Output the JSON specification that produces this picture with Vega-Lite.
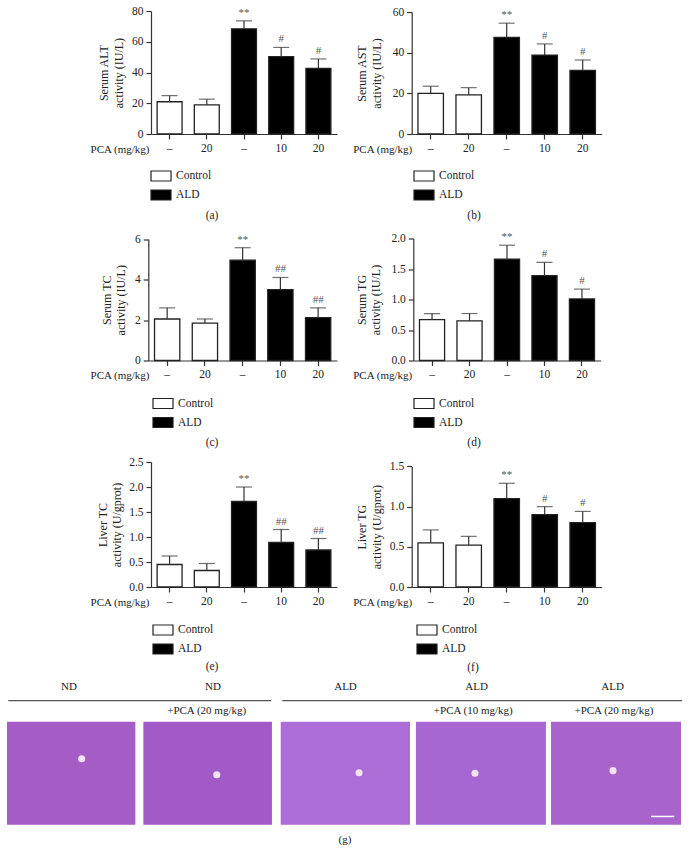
{"$schema":"https://vega.github.io/schema/vega-lite/v6.json","padding":{"left":7,"top":5,"right":8,"bottom":5},"background":"white","columns":2,"align":"none","bounds":"flush","spacing":{"row":100.5,"column":73},"resolve":{"scale":{"color":"independent"},"legend":{"color":"independent"}},
"config":{"font":"Liberation Serif","view":{"stroke":null},"axis":{"labelFont":"Liberation Serif","titleFont":"Liberation Serif","labelFontSize":11.5,"titleFontSize":12,"titleFontWeight":"normal","labelColor":"#222","titleColor":"#222","domainColor":"#333","tickColor":"#333","domainWidth":1.2,"tickWidth":1.2,"tickSize":5,"grid":false,"titleLineHeight":14.5,"labelPadding":3},"legend":{"labelFont":"Liberation Serif","labelFontSize":11.5,"labelColor":"#222","title":null,"orient":"none","symbolType":"M-1,-0.5H1V0.5H-1Z","symbolSize":400,"symbolStrokeColor":"#222","symbolStrokeWidth":1.2,"rowPadding":-3,"labelOffset":4,"padding":0},"title":{"font":"Liberation Serif","fontSize":11.5,"fontWeight":"normal","color":"#222"}},
"datasets":{
"a":[{"dose":"–","group":"Control","mean":21,"hi":25,"sig":""},{"dose":"20","group":"Control","mean":19,"hi":22.7,"sig":""},{"dose":"– ","group":"ALD","mean":68.5,"hi":73.7,"sig":"**"},{"dose":"10","group":"ALD","mean":50.4,"hi":56.4,"sig":"#"},{"dose":"20 ","group":"ALD","mean":42.8,"hi":48.9,"sig":"#"}],
"b":[{"dose":"–","group":"Control","mean":20,"hi":23.5,"sig":""},{"dose":"20","group":"Control","mean":19.2,"hi":22.8,"sig":""},{"dose":"– ","group":"ALD","mean":47.5,"hi":54.5,"sig":"**"},{"dose":"10","group":"ALD","mean":38.8,"hi":44.3,"sig":"#"},{"dose":"20 ","group":"ALD","mean":31.3,"hi":36.4,"sig":"#"}],
"c":[{"dose":"–","group":"Control","mean":2.05,"hi":2.6,"sig":""},{"dose":"20","group":"Control","mean":1.85,"hi":2.05,"sig":""},{"dose":"– ","group":"ALD","mean":4.95,"hi":5.57,"sig":"**"},{"dose":"10","group":"ALD","mean":3.5,"hi":4.1,"sig":"##"},{"dose":"20 ","group":"ALD","mean":2.12,"hi":2.6,"sig":"##"}],
"d":[{"dose":"–","group":"Control","mean":0.67,"hi":0.77,"sig":""},{"dose":"20","group":"Control","mean":0.65,"hi":0.77,"sig":""},{"dose":"– ","group":"ALD","mean":1.66,"hi":1.89,"sig":"**"},{"dose":"10","group":"ALD","mean":1.39,"hi":1.61,"sig":"#"},{"dose":"20 ","group":"ALD","mean":1.01,"hi":1.17,"sig":"#"}],
"e":[{"dose":"–","group":"Control","mean":0.45,"hi":0.62,"sig":""},{"dose":"20","group":"Control","mean":0.33,"hi":0.47,"sig":""},{"dose":"– ","group":"ALD","mean":1.71,"hi":2.0,"sig":"**"},{"dose":"10","group":"ALD","mean":0.89,"hi":1.15,"sig":"##"},{"dose":"20 ","group":"ALD","mean":0.74,"hi":0.97,"sig":"##"}],
"f":[{"dose":"–","group":"Control","mean":0.55,"hi":0.71,"sig":""},{"dose":"20","group":"Control","mean":0.52,"hi":0.63,"sig":""},{"dose":"– ","group":"ALD","mean":1.1,"hi":1.29,"sig":"**"},{"dose":"10","group":"ALD","mean":0.9,"hi":1.0,"sig":"#"},{"dose":"20 ","group":"ALD","mean":0.8,"hi":0.94,"sig":"#"}],
"plates":[{"plate":"ND","start":0,"end":0.995,"veinX":0.579,"veinY":0.64},{"plate":"ND+20","start":1.057,"end":2.054,"veinX":1.626,"veinY":0.485},{"plate":"ALD","start":2.122,"end":3.124,"veinX":2.729,"veinY":0.505},{"plate":"ALD+10","start":3.17,"end":4.178,"veinX":3.628,"veinY":0.5},{"plate":"ALD+20","start":4.217,"end":5.225,"veinX":4.698,"veinY":0.525}],
"groups":[{"from":0.01,"to":2.047,"level":1.204},{"from":2.134,"to":5.234,"level":1.204}],
"labels":[{"text":"ND","px":0.48,"py":1.337},{"text":"ND","px":1.597,"py":1.337},{"text":"ALD","px":2.624,"py":1.337},{"text":"ALD","px":3.64,"py":1.337},{"text":"ALD","px":4.695,"py":1.337},{"text":"+PCA (20 mg/kg)","px":1.548,"py":1.107},{"text":"+PCA (10 mg/kg)","px":3.615,"py":1.107},{"text":"+PCA (20 mg/kg)","px":4.705,"py":1.107},{"text":"(g)","px":2.62,"py":-0.146}],
"scalebar":[{"from":4.992,"to":5.173,"level":0.08}]
},
"concat":[
{"width":190,"height":126,"data":{"name":"a"},"title":{"text":"(a)","orient":"bottom","dx":-31,"offset":7},
"encoding":{"x":{"field":"dose","type":"nominal","sort":null,"title":"PCA (mg/kg)","scale":{"range":[3,189],"paddingInner":0.33},"axis":{"labelAngle":0,"titleFontSize":11,"titleAlign":"right","titleBaseline":"middle","titleX":1,"titleY":15}},"y":{"field":"mean","type":"quantitative","scale":{"domain":[0,80],"range":[126,3.2]},"axis":{"values":[0,20,40,60,80],"title":["Serum ALT","activity (IU/L)"],"offset":-3,"titleX":-47.5,"titleBaseline":"middle"}}},
"layer":[{"mark":{"type":"bar","stroke":"#222","strokeWidth":1.3},"encoding":{"color":{"field":"group","type":"nominal","scale":{"domain":["Control","ALD"],"range":["white","black"]},"legend":{"legendX":2,"legendY":157}}}},{"mark":{"type":"rule","color":"#333","strokeWidth":1.2},"encoding":{"y2":{"field":"hi"}}},{"mark":{"type":"tick","orient":"horizontal","size":16,"thickness":1.2,"color":"#333"},"encoding":{"y":{"field":"hi","type":"quantitative"}}},{"mark":{"type":"text","dy":-8,"fontSize":11,"color":"#555"},"encoding":{"y":{"field":"hi","type":"quantitative"},"text":{"field":"sig"}}}]},
{"width":190,"height":126,"data":{"name":"b"},"title":{"text":"(b)","orient":"bottom","dx":-32,"offset":7},
"encoding":{"x":{"field":"dose","type":"nominal","sort":null,"title":"PCA (mg/kg)","scale":{"range":[0.7,190.7],"paddingInner":0.33},"axis":{"labelAngle":0,"titleFontSize":11,"titleAlign":"right","titleBaseline":"middle","titleX":0.7,"titleY":15}},"y":{"field":"mean","type":"quantitative","scale":{"domain":[0,60],"range":[126,4]},"axis":{"values":[0,20,40,60],"title":["Serum AST","activity (IU/L)"],"offset":-0.7,"titleX":-50,"titleBaseline":"middle"}}},
"layer":[{"mark":{"type":"bar","stroke":"#222","strokeWidth":1.3},"encoding":{"color":{"field":"group","type":"nominal","scale":{"domain":["Control","ALD"],"range":["white","black"]},"legend":{"legendX":2,"legendY":157}}}},{"mark":{"type":"rule","color":"#333","strokeWidth":1.2},"encoding":{"y2":{"field":"hi"}}},{"mark":{"type":"tick","orient":"horizontal","size":16,"thickness":1.2,"color":"#333"},"encoding":{"y":{"field":"hi","type":"quantitative"}}},{"mark":{"type":"text","dy":-8,"fontSize":11,"color":"#555"},"encoding":{"y":{"field":"hi","type":"quantitative"},"text":{"field":"sig"}}}]},
{"width":190,"height":126,"data":{"name":"c"},"title":{"text":"(c)","orient":"bottom","dx":-31,"offset":6},
"encoding":{"x":{"field":"dose","type":"nominal","sort":null,"title":"PCA (mg/kg)","scale":{"range":[0.3,189],"paddingInner":0.33},"axis":{"labelAngle":0,"titleFontSize":11,"titleAlign":"right","titleBaseline":"middle","titleX":1,"titleY":15}},"y":{"field":"mean","type":"quantitative","scale":{"domain":[0,6],"range":[126,4.5]},"axis":{"values":[0,2,4,6],"title":["Serum TC","activity (IU/L)"],"offset":-0.3,"titleX":-42,"titleBaseline":"middle"}}},
"layer":[{"mark":{"type":"bar","stroke":"#222","strokeWidth":1.3},"encoding":{"color":{"field":"group","type":"nominal","scale":{"domain":["Control","ALD"],"range":["white","black"]},"legend":{"legendX":4,"legendY":158}}}},{"mark":{"type":"rule","color":"#333","strokeWidth":1.2},"encoding":{"y2":{"field":"hi"}}},{"mark":{"type":"tick","orient":"horizontal","size":16,"thickness":1.2,"color":"#333"},"encoding":{"y":{"field":"hi","type":"quantitative"}}},{"mark":{"type":"text","dy":-8,"fontSize":11,"color":"#555"},"encoding":{"y":{"field":"hi","type":"quantitative"},"text":{"field":"sig"}}}]},
{"width":190,"height":126,"data":{"name":"d"},"title":{"text":"(d)","orient":"bottom","dx":-32,"offset":6},
"encoding":{"x":{"field":"dose","type":"nominal","sort":null,"title":"PCA (mg/kg)","scale":{"range":[2.3,189.7],"paddingInner":0.33},"axis":{"labelAngle":0,"titleFontSize":11,"titleAlign":"right","titleBaseline":"middle","titleX":0.7,"titleY":15}},"y":{"field":"mean","type":"quantitative","scale":{"domain":[0,2],"range":[126,4]},"axis":{"values":[0,0.5,1,1.5,2],"format":".1f","title":["Serum TG","activity (IU/L)"],"offset":-2.3,"titleX":-52,"titleBaseline":"middle"}}},
"layer":[{"mark":{"type":"bar","stroke":"#222","strokeWidth":1.3},"encoding":{"color":{"field":"group","type":"nominal","scale":{"domain":["Control","ALD"],"range":["white","black"]},"legend":{"legendX":2,"legendY":158}}}},{"mark":{"type":"rule","color":"#333","strokeWidth":1.2},"encoding":{"y2":{"field":"hi"}}},{"mark":{"type":"tick","orient":"horizontal","size":16,"thickness":1.2,"color":"#333"},"encoding":{"y":{"field":"hi","type":"quantitative"}}},{"mark":{"type":"text","dy":-8,"fontSize":11,"color":"#555"},"encoding":{"y":{"field":"hi","type":"quantitative"},"text":{"field":"sig"}}}]},
{"width":190,"height":126,"data":{"name":"e"},"title":{"text":"(e)","orient":"bottom","dx":-31,"offset":4},
"encoding":{"x":{"field":"dose","type":"nominal","sort":null,"title":"PCA (mg/kg)","scale":{"range":[3,189],"paddingInner":0.33},"axis":{"labelAngle":0,"titleFontSize":11,"titleAlign":"right","titleBaseline":"middle","titleX":1,"titleY":15}},"y":{"field":"mean","type":"quantitative","scale":{"domain":[0,2.5],"range":[126,1]},"axis":{"values":[0,0.5,1,1.5,2,2.5],"format":".1f","title":["Liver TC","activity (U/gprot)"],"offset":-3,"titleX":-49,"titleBaseline":"middle"}}},
"layer":[{"mark":{"type":"bar","stroke":"#222","strokeWidth":1.3},"encoding":{"color":{"field":"group","type":"nominal","scale":{"domain":["Control","ALD"],"range":["white","black"]},"legend":{"legendX":4,"legendY":158}}}},{"mark":{"type":"rule","color":"#333","strokeWidth":1.2},"encoding":{"y2":{"field":"hi"}}},{"mark":{"type":"tick","orient":"horizontal","size":16,"thickness":1.2,"color":"#333"},"encoding":{"y":{"field":"hi","type":"quantitative"}}},{"mark":{"type":"text","dy":-8,"fontSize":11,"color":"#555"},"encoding":{"y":{"field":"hi","type":"quantitative"},"text":{"field":"sig"}}}]},
{"width":190,"height":126,"data":{"name":"f"},"title":{"text":"(f)","orient":"bottom","dx":-33,"offset":5},
"encoding":{"x":{"field":"dose","type":"nominal","sort":null,"title":"PCA (mg/kg)","scale":{"range":[0.7,190.7],"paddingInner":0.33},"axis":{"labelAngle":0,"titleFontSize":11,"titleAlign":"right","titleBaseline":"middle","titleX":0.7,"titleY":15}},"y":{"field":"mean","type":"quantitative","scale":{"domain":[0,1.5],"range":[126,5.4]},"axis":{"values":[0,0.5,1,1.5],"format":".1f","title":["Liver TG","activity (U/gprot)"],"offset":-0.7,"titleX":-50,"titleBaseline":"middle"}}},
"layer":[{"mark":{"type":"bar","stroke":"#222","strokeWidth":1.3},"encoding":{"color":{"field":"group","type":"nominal","scale":{"domain":["Control","ALD"],"range":["white","black"]},"legend":{"legendX":5,"legendY":158}}}},{"mark":{"type":"rule","color":"#333","strokeWidth":1.2},"encoding":{"y2":{"field":"hi"}}},{"mark":{"type":"tick","orient":"horizontal","size":16,"thickness":1.2,"color":"#333"},"encoding":{"y":{"field":"hi","type":"quantitative"}}},{"mark":{"type":"text","dy":-8,"fontSize":11,"color":"#555"},"encoding":{"y":{"field":"hi","type":"quantitative"},"text":{"field":"sig"}}}]},
{"width":190,"height":137,"layer":[
{"data":{"name":"plates"},"mark":{"type":"rect"},"encoding":{"x":{"field":"start","type":"quantitative","scale":{"domain":[0,5.225],"range":[-141,533],"nice":false,"zero":false},"axis":null},"x2":{"field":"end"},"y":{"datum":0,"type":"quantitative","scale":{"domain":[0,1],"range":[137.2,34.2],"nice":false},"axis":null},"y2":{"datum":1},"color":{"field":"plate","type":"nominal","sort":null,"scale":{"domain":["ND","ND+20","ALD","ALD+10","ALD+20"],"range":["#a55cc4","#a35ac9","#ad6dd6","#a766d2","#a864ca"]},"legend":null}}},
{"data":{"name":"plates"},"mark":{"type":"point","filled":true,"size":50,"color":"#f3e3f7","opacity":1},"encoding":{"x":{"field":"veinX","type":"quantitative"},"y":{"field":"veinY","type":"quantitative"}}},
{"data":{"name":"groups"},"mark":{"type":"rule","color":"#555","strokeWidth":1.2},"encoding":{"x":{"field":"from","type":"quantitative"},"x2":{"field":"to"},"y":{"field":"level","type":"quantitative"}}},
{"data":{"name":"scalebar"},"mark":{"type":"rule","color":"white","strokeWidth":1.5},"encoding":{"x":{"field":"from","type":"quantitative"},"x2":{"field":"to"},"y":{"field":"level","type":"quantitative"}}},
{"data":{"name":"labels"},"mark":{"type":"text","fontSize":11,"color":"#222"},"encoding":{"x":{"field":"px","type":"quantitative"},"y":{"field":"py","type":"quantitative"},"text":{"field":"text"}}}
]}
]}
